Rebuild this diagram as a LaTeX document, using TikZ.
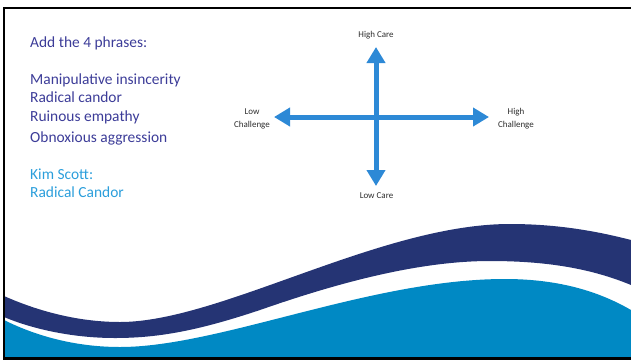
\documentclass[tikz,border=0pt]{standalone}
\usepackage{fontspec}
\setmainfont{Carlito}
\usetikzlibrary{arrows.meta}

\definecolor{phrasecol}{RGB}{60,60,152}
\definecolor{sourcecol}{RGB}{43,158,219}
\definecolor{axiscol}{RGB}{45,137,214}
\definecolor{labelcol}{RGB}{45,45,45}
\definecolor{navy}{RGB}{37,52,116}
\definecolor{sea}{RGB}{0,137,196}

\tikzset{
    phrase/.style={anchor=base west, inner sep=0pt, text=phrasecol,
                   font=\fontsize{15.5}{18}\selectfont},
    source/.style={phrase, text=sourcecol},
    axislabel/.style={align=center, inner sep=0pt, text=labelcol,
                      font=\fontsize{9}{13}\selectfont},
    axis/.style={{Triangle[length=16bp,width=18bp]}-{Triangle[length=16bp,width=18bp]},
                 line width=5bp, draw=axiscol},
    frame/.style={line width=2.2bp, draw=black},
}

\begin{document}
\begin{tikzpicture}[x=1bp, y=-1bp]
    \useasboundingbox (0,0) rectangle (631,361);

    % waves along the bottom
    \fill[navy] (4,296) .. controls (40,312) and (80,322) .. (120,322)
        .. controls (220,322) and (380,224) .. (510,224)
        .. controls (560,224) and (600,232) .. (631,240)
        -- (631,285) .. controls (590,268) and (545,261) .. (490,261)
        .. controls (420,261) and (340,282) .. (260,310)
        .. controls (200,330) and (160,338) .. (115,338)
        .. controls (70,338) and (30,328) .. (4,317) -- cycle;
    \fill[sea] (4,320) .. controls (40,338) and (80,347) .. (120,347)
        .. controls (220,347) and (370,279) .. (505,279)
        .. controls (560,279) and (600,292) .. (631,310)
        -- (631,358) -- (4,358) -- cycle;
    \draw[frame] (631,8) -- (4,8) -- (4,358.5) -- (631,358.5);

    % phrase list
    \node[phrase] (task) at (30,47.3) {Add the 4 phrases:};
    \node[phrase] (manip) at (30,84) {Manipulative insincerity};
    \node[phrase] (radical) at (30,102.7) {Radical candor};
    \node[phrase] (ruinous) at (30,121.7) {Ruinous empathy};
    \node[phrase] (obnox) at (30,142.7) {Obnoxious aggression};
    \node[source] (author) at (30,179) {Kim Scott:};
    \node[source] (book) at (30,197.7) {Radical Candor};

    % care / challenge axes
    \coordinate (west) at (274,117);
    \coordinate (east) at (489,117);
    \coordinate (north) at (376,47);
    \coordinate (south) at (376,186);
    \draw[axis] (west) -- (east);
    \draw[axis] (south) -- (north);
    \node[axislabel] (highcare) at (376,35) {High Care};
    \node[axislabel] (lowcare) at (376.5,196) {Low Care};
    \node[axislabel] (lowch) at (252,118.5) {Low\\Challenge};
    \node[axislabel] (highch) at (516,118.5) {High\\Challenge};

\end{tikzpicture}
\end{document}
